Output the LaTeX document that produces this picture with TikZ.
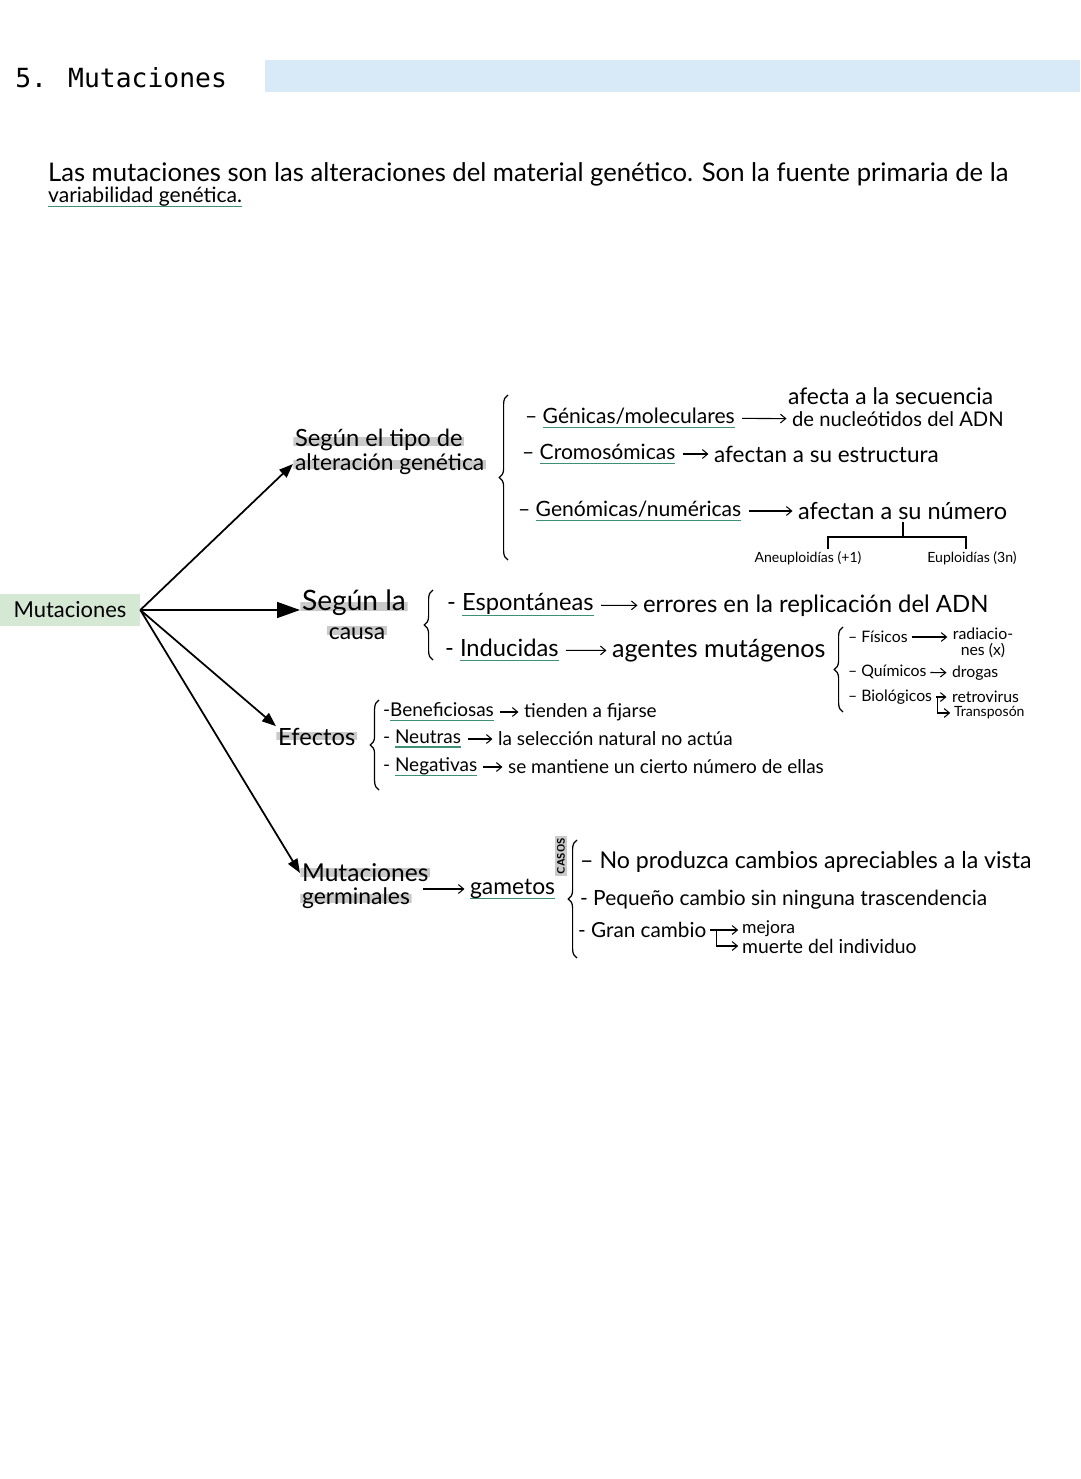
\documentclass[tikz,border=0pt]{standalone}
\usepackage{fontspec}
\setmainfont{Lato}
\newfontfamily\titlefont{DejaVu Sans Mono}
\usetikzlibrary{arrows.meta, positioning, calc, decorations.pathreplacing}
\definecolor{MarkGreen}{HTML}{D5E8D4}
\definecolor{LineGreen}{HTML}{3F8F73}
\definecolor{BarBlue}{HTML}{D8EAF7}
\definecolor{HiGray}{HTML}{CACACA}
\newcommand{\handsize}[1]{\fontsize{#1}{#1}\selectfont}
\newcommand{\gul}[1]{\begingroup\setbox0=\hbox{#1}\rlap{\color{LineGreen}\rule[-0.45ex]{\wd0}{0.9pt}}\box0\endgroup}
\tikzset{
  hand/.style={anchor=west, inner sep=1pt, font=\handsize{12}},
  hilite/.style={path picture={\fill[HiGray] ([yshift=4pt]path picture bounding box.south west) rectangle ([yshift=9pt]path picture bounding box.south east);}},
  bigarrow/.style={line width=1pt, -{Triangle[length=8pt,width=6pt]}},
  smallarrow/.style={line width=0.6pt, -{Straight Barb[length=3pt,width=5pt]}, shorten <=3pt, shorten >=2pt},
  curly/.style={decorate, decoration={brace, amplitude=5pt}, line width=0.7pt}
}
\begin{document}
\begin{tikzpicture}[x=0.02cm, y=-0.02cm]
\useasboundingbox[fill=white] (0,0) rectangle (1080,1479);

% title
\fill[BarBlue] (265,60) rectangle (1080,92);
\node[anchor=west, inner sep=0pt, font=\titlefont\fontsize{15}{16}\selectfont] (title) at (15,78) {5. Mutaciones};

% definition
\node[hand, font=\handsize{14.6}] (def1) at (46,174) {Las mutaciones son las alteraciones del material genético. Son la fuente primaria de la};
\node[hand, font=\handsize{12}] (def2) at (46,197) {\gul{variabilidad genética.}};

% root
\node[fill=MarkGreen, minimum width=2.8cm, minimum height=0.64cm, inner sep=0pt, font=\handsize{12.5}] (mut) at (70,610) {Mutaciones};

% tipo de alteracion
\node[hand, hilite, font=\handsize{13.5}] (tipo1) at (293,440) {Según el tipo de};
\node[hand, hilite, font=\handsize{13}] (tipo2) at (293,464) {alteración genética};
\draw[curly] (508,560) -- (508,395);
\node[hand] (gen) at (523,418) {– \gul{Génicas/moleculares}};
\node[hand, font=\handsize{13}] (genA) at (786,396) {afecta a la secuencia};
\node[hand, font=\handsize{11.5}] (genR) at (790,419) {de nucleótidos del ADN};
\node[hand] (cro) at (520,454) {– \gul{Cromosómicas}};
\node[hand, font=\handsize{12.8}] (croR) at (712,454) {afectan a su estructura};
\node[hand] (geno) at (516,511) {– \gul{Genómicas/numéricas}};
\node[hand, font=\handsize{13.4}] (genoR) at (796,511) {afectan a su número};
\node[inner sep=1pt, font=\handsize{8}] (aneu) at (808,558) {Aneuploidías (+1)};
\node[inner sep=1pt, font=\handsize{8}] (eup) at (972,558) {Euploidías (3n)};
\draw[smallarrow] (gen) -- (genR);
\draw[smallarrow] (cro) -- (croR);
\draw[smallarrow] (geno) -- (genoR);
\coordinate (tl) at (828,537);
\coordinate (tm) at (903,537);
\coordinate (tr) at (966,537);
\draw[line width=0.6pt] (tl |- aneu.north) -- (tl) -- (tr) -- (tr |- eup.north);
\draw[line width=0.6pt] (tm) -- (tm |- genoR.south);

% causa
\node[hand, hilite, font=\handsize{16}] (cau1) at (300,603) {Según la};
\node[inner sep=1pt, hilite, font=\handsize{13}] (cau2) at (357,634) {causa};
\draw[curly] (433,660) -- (433,590);
\node[hand, font=\handsize{13.5}] (esp) at (445,605) {- \gul{Espontáneas}};
\node[hand, font=\handsize{13.6}] (espR) at (641,606) {errores en la replicación del ADN};
\node[hand, font=\handsize{13.5}] (ind) at (443,650) {- \gul{Inducidas}};
\node[hand, font=\handsize{14.3}] (indR) at (610,651) {agentes mutágenos};
\draw[smallarrow] (esp) -- (espR);
\draw[smallarrow] (ind) -- (indR);
\draw[curly] (843,712) -- (843,627);
\node[hand, font=\handsize{9}] (fis) at (846,637) {– Físicos};
\node[inner sep=1pt, align=center, font=\handsize{9}] (fisR) at (983,643) {radiacio-\\nes (x)};
\node[hand, font=\handsize{9}] (qui) at (846,672) {– Químicos};
\node[hand, font=\handsize{9}] (quiR) at (950,673) {drogas};
\node[hand, font=\handsize{9}] (bio) at (846,697) {– Biológicos};
\node[hand, font=\handsize{9}] (bioR) at (950,697) {retrovirus};
\node[hand, font=\handsize{8}] (trans) at (952,713) {Transposón};
\draw[smallarrow, shorten <=1pt] (fis.east) -- (fis.east -| fisR.west);
\draw[smallarrow, shorten <=1pt] (qui) -- (quiR);
\draw[smallarrow, shorten <=1pt] (bio) -- (bioR);
\draw[smallarrow, shorten <=0pt, shorten >=1pt] ($(bio.east)!0.2!(bioR.west)$) |- (trans.west);

% efectos
\node[hand, hilite, font=\handsize{13.5}] (efe) at (276,737) {Efectos};
\draw[curly] (379,790) -- (379,700);
\node[hand, font=\handsize{10.8}] (ben) at (381,712) {-\gul{Beneficiosas}};
\node[hand, font=\handsize{10.8}] (benR) at (522,712) {tienden a fijarse};
\node[hand, font=\handsize{10.8}] (neu) at (381,739) {- \gul{Neutras}};
\node[hand, font=\handsize{10.8}] (neuR) at (496,739) {la selección natural no actúa};
\node[hand, font=\handsize{10.8}] (neg) at (381,767) {- \gul{Negativas}};
\node[hand, font=\handsize{10.8}] (negR) at (506,767) {se mantiene un cierto número de ellas};
\draw[smallarrow, shorten <=2pt] (ben) -- (benR);
\draw[smallarrow] (neu) -- (neuR);
\draw[smallarrow, shorten <=2pt] (neg) -- (negR);

% germinales
\node[hand, hilite, font=\handsize{14}] (ger1) at (300,873) {Mutaciones};
\node[hand, hilite, font=\handsize{13}] (ger2) at (300,898) {germinales};
\node[hand, font=\handsize{13}] (gam) at (468,889) {\gul{gametos}};
\draw[smallarrow, shorten <=6pt] (gam.west -| ger2.east) -- (gam.west);
\node[rotate=90, fill=HiGray, inner sep=1pt, font=\sffamily\bfseries\handsize{6}] (casos) at (561,856) {CASOS};
\draw[curly] (577,958) -- (577,840);
\node[hand, font=\handsize{13.2}] (c1) at (578,862) {– No produzca cambios apreciables a la vista};
\node[hand, font=\handsize{11.9}] (c2) at (578,900) {- Pequeño cambio sin ninguna trascendencia};
\node[hand, font=\handsize{11.8}] (c3) at (576,930) {- Gran cambio};
\node[hand, font=\handsize{10}] (mej) at (740,929) {mejora};
\node[hand, font=\handsize{11}] (mue) at (740,946) {muerte del individuo};
\draw[smallarrow, shorten <=1pt, shorten >=1pt] (c3.east) -- (c3.east -| mej.west);
\draw[smallarrow, shorten <=0pt, shorten >=1pt] ($(c3.east)!0.25!(c3.east -| mej.west)$) |- (mue.west);

% connectors
\draw[bigarrow] (mut.east) -- (tipo2.west);
\draw[bigarrow, -{Triangle[length=13pt,width=9pt]}] (mut.east) -- (mut.east -| cau1.west);
\draw[bigarrow] (mut.east) -- (efe.north west);
\draw[bigarrow] (mut.east) -- (ger1.west);
\end{tikzpicture}
\end{document}
